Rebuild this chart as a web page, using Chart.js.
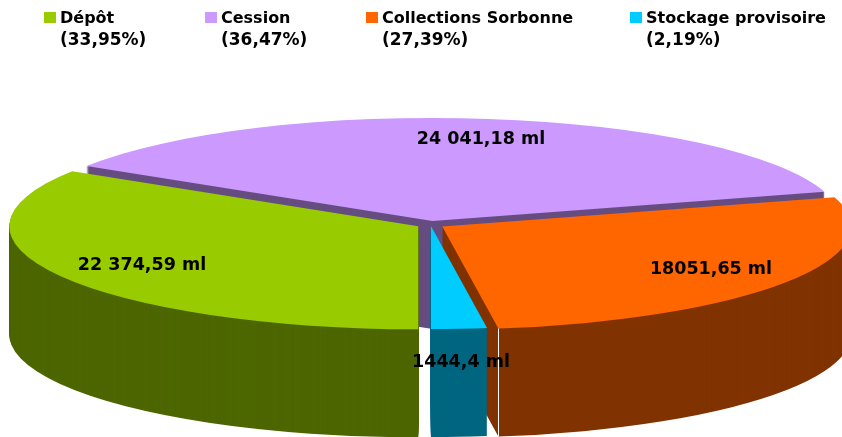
<!DOCTYPE html>
<html>
<head>
<meta charset="utf-8">
<style>
    html, body { margin: 0; padding: 0; background: #fff; }
    canvas { display: block; }
</style>
<script src="https://cdn.jsdelivr.net/npm/chart.js@4"></script>
</head>
<body>
<canvas id="chart-fonds" width="842" height="437"></canvas>
<script>
const categories = ['Dépôt', 'Cession', 'Collections Sorbonne', 'Stockage provisoire'];
const percentLabels = ['(33,95%)', '(36,47%)', '(27,39%)', '(2,19%)'];
const metres = [22374.59, 24041.18, 18051.65, 1444.4];
const valueLabels = ['22 374,59 ml', '24 041,18 ml', '18051,65 ml', '1444,4 ml'];
const topColors = ['#99cc00', '#cc99ff', '#ff6600', '#00ccff'];
const wallColors = ['#4d6600', '#664d80', '#803300', '#006680'];

// layout of the fake 3D pie
const centerX = 430.5;
const centerY = 224.5;
const squash = 0.252;
const wallHeight = 108;
const sliceOffsets = [56, 56, 56, 24];
const drawOrder = [1, 0, 2, 3];
const legendX = [44, 205, 366, 630];
const valueLabelPos = [[142, 265], [481, 139], [711, 269], [461, 362]];
const legendFont = 'bold 16px "DejaVu Sans", Verdana, sans-serif';
const percentFont = 'bold 17px "DejaVu Sans", Verdana, sans-serif';
const valueFont = 'bold 17.5px "DejaVu Sans", Verdana, sans-serif';

function drawSlice(ctx, arc, color, dy) {
    const mid = (arc.startAngle + arc.endAngle) / 2;
    const shift = arc.options.offset / 4;
    let copy = Object.create(arc);
    copy.options = Object.assign({}, arc.options, { backgroundColor: color, offset: 0 });

    ctx.save();
    ctx.translate(centerX, centerY + dy);
    ctx.scale(1, squash);
    ctx.translate(Math.cos(mid) * shift - arc.x, Math.sin(mid) * shift - arc.y);
    copy.draw(ctx);
    ctx.restore();
}

const pie3d = {
    id: 'pie3d',
    beforeDatasetDraw(chart) {
        const ctx = chart.ctx;
        const arcs = chart.getDatasetMeta(0).data;

        drawOrder.forEach((i) => {
            for (let dy = wallHeight; dy > 0; dy--) {
                drawSlice(ctx, arcs[i], wallColors[i], dy);
            }
            drawSlice(ctx, arcs[i], topColors[i], 0);
        });

        // thin white edge where the orange wall turns
        const end = arcs[2];
        const mid = (end.startAngle + end.endAngle) / 2;
        const shift = end.options.offset / 4;
        const x = Math.round(centerX + Math.cos(mid) * shift + Math.cos(end.endAngle) * end.outerRadius) + 0.5;
        const y = centerY + (Math.sin(mid) * shift + Math.sin(end.endAngle) * end.outerRadius) * squash;
        ctx.strokeStyle = '#fff';
        ctx.lineWidth = 1;
        ctx.beginPath();
        ctx.moveTo(x, y);
        ctx.lineTo(x, y + wallHeight);
        ctx.stroke();

        return false;
    },
    afterDraw(chart) {
        const ctx = chart.ctx;
        ctx.save();
        ctx.textBaseline = 'alphabetic';
        ctx.textAlign = 'left';

        categories.forEach((name, i) => {
            ctx.fillStyle = topColors[i];
            ctx.fillRect(legendX[i], 12, 12, 11);
            ctx.fillStyle = '#000';
            ctx.font = legendFont;
            ctx.fillText(name, legendX[i] + 16, 23);
            ctx.font = percentFont;
            ctx.fillText(percentLabels[i], legendX[i] + 16, 45);
        });

        ctx.font = valueFont;
        ctx.textAlign = 'center';
        ctx.textBaseline = 'middle';
        valueLabels.forEach((text, i) => {
            ctx.fillText(text, valueLabelPos[i][0], valueLabelPos[i][1]);
        });
        ctx.restore();
    },
};

new Chart(document.getElementById('chart-fonds'), {
    type: 'pie',
    data: {
        labels: categories,
        datasets: [{
            data: metres,
            backgroundColor: topColors,
            borderWidth: 0,
            offset: sliceOffsets,
            hoverOffset: 0,
        }],
    },
    options: {
        responsive: false,
        animation: false,
        events: [],
        radius: 409,
        rotation: 180,
        plugins: {
            legend: { display: false },
            tooltip: { enabled: false },
        },
    },
    plugins: [pie3d],
});
</script>
</body>
</html>
